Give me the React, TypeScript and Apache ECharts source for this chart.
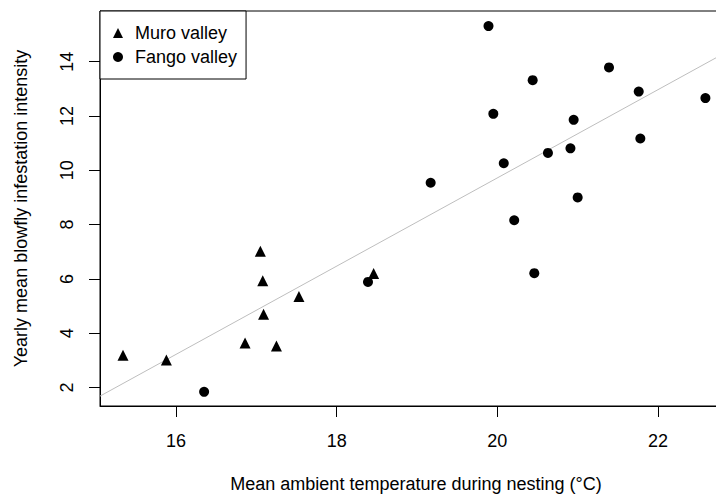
import React, { useEffect, useRef } from "react";
import * as echarts from "echarts";

const muroTemp = [15.34, 15.88, 17.05, 17.08, 17.09, 16.86, 17.25, 17.53, 18.46];
const muroInfest = [3.19, 3.01, 7.02, 5.93, 4.7, 3.64, 3.53, 5.35, 6.2];

const fangoTemp = [19.89, 20.44, 21.39, 21.76, 19.95, 20.95, 21.78, 20.91, 20.63, 20.08, 19.17, 21.0, 20.21, 22.59, 20.46, 18.39, 16.35];
const fangoInfest = [15.31, 13.32, 13.79, 12.9, 12.08, 11.86, 11.17, 10.81, 10.64, 10.26, 9.54, 9.0, 8.16, 12.66, 6.21, 5.89, 1.84];

const xTicks = [16, 18, 20, 22];
const yTicks = [2, 4, 6, 8, 10, 12, 14];

const fitIntercept = -22.78;
const fitSlope = 1.625;

const X_MIN = 15.054;
const X_MAX = 22.921;
const Y_MIN = 1.319;
const Y_MAX = 15.867;

const FONT = "Liberation Sans, Arial, Helvetica, sans-serif";

export default function App() {
  const ref = useRef<HTMLDivElement>(null);

  useEffect(() => {
    if (!ref.current) return;
    const chart = echarts.init(ref.current, null, { renderer: "svg" });
    const muro = muroTemp.map((t, i) => [t, muroInfest[i]]);
    const fango = fangoTemp.map((t, i) => [t, fangoInfest[i]]);
    const fit = [X_MIN, X_MAX].map((x) => [x, fitIntercept + fitSlope * x]);

    chart.setOption({
      animation: false,
      backgroundColor: "#fff",
      textStyle: { fontFamily: FONT, color: "#000" },
      grid: {
        left: 100,
        right: 0,
        top: 11,
        bottom: 88,
        outerBoundsMode: "none",
        containLabel: false,
        show: true,
        borderColor: "#000",
        borderWidth: 1,
        backgroundColor: "transparent",
      },
      legend: {
        data: ["Muro valley", "Fango valley"],
        orient: "vertical",
        left: 100,
        top: 11,
        padding: [13, 9, 13, 13],
        itemWidth: 10,
        itemHeight: 10,
        itemGap: 6,
        backgroundColor: "#fff",
        borderColor: "#000",
        borderWidth: 1,
        borderRadius: 0,
        textStyle: { fontSize: 18, fontFamily: FONT, color: "#000", padding: [0, 0, 0, 7] },
        selectedMode: false,
      },
      xAxis: {
        type: "value",
        min: X_MIN,
        max: X_MAX,
        name: "Mean ambient temperature during nesting (°C)",
        nameLocation: "middle",
        nameGap: 69,
        nameTextStyle: { fontSize: 18, fontFamily: FONT, color: "#000" },
        axisLine: { show: true, onZero: false, lineStyle: { color: "#000", width: 1 } },
        axisTick: { show: true, length: 11, inside: false, customValues: xTicks, lineStyle: { color: "#000" } },
        axisLabel: { show: true, customValues: xTicks, margin: 26, fontSize: 18, fontFamily: FONT, color: "#000" },
        splitLine: { show: false },
      },
      yAxis: {
        type: "value",
        min: Y_MIN,
        max: Y_MAX,
        name: "Yearly mean blowfly infestation intensity",
        nameLocation: "middle",
        nameGap: 70,
        nameTextStyle: { fontSize: 18, fontFamily: FONT, color: "#000" },
        axisLine: { show: true, onZero: false, lineStyle: { color: "#000", width: 1 } },
        axisTick: { show: true, length: 11, inside: false, customValues: yTicks, lineStyle: { color: "#000" } },
        axisLabel: { show: true, customValues: yTicks, rotate: 90, margin: 24, fontSize: 18, fontFamily: FONT, color: "#000" },
        splitLine: { show: false },
      },
      series: [
        {
          name: "Fit",
          type: "line",
          data: fit,
          showSymbol: false,
          symbol: "none",
          silent: true,
          clip: true,
          z: 1,
          lineStyle: { color: "#bebebe", width: 1 },
        },
        {
          name: "Muro valley",
          type: "scatter",
          data: muro,
          symbol: "triangle",
          symbolSize: 11,
          z: 3,
          itemStyle: { color: "#000", opacity: 1 },
        },
        {
          name: "Fango valley",
          type: "scatter",
          data: fango,
          symbol: "circle",
          symbolSize: 10,
          z: 3,
          itemStyle: { color: "#000", opacity: 1 },
        },
      ],
    });
    return () => chart.dispose();
  }, []);

  return (
    <div style={{ position: "fixed", left: 0, top: 0, width: 716, height: 494, overflow: "hidden", background: "#fff" }}>
      <div ref={ref} style={{ width: 732, height: 494 }} />
    </div>
  );
}
